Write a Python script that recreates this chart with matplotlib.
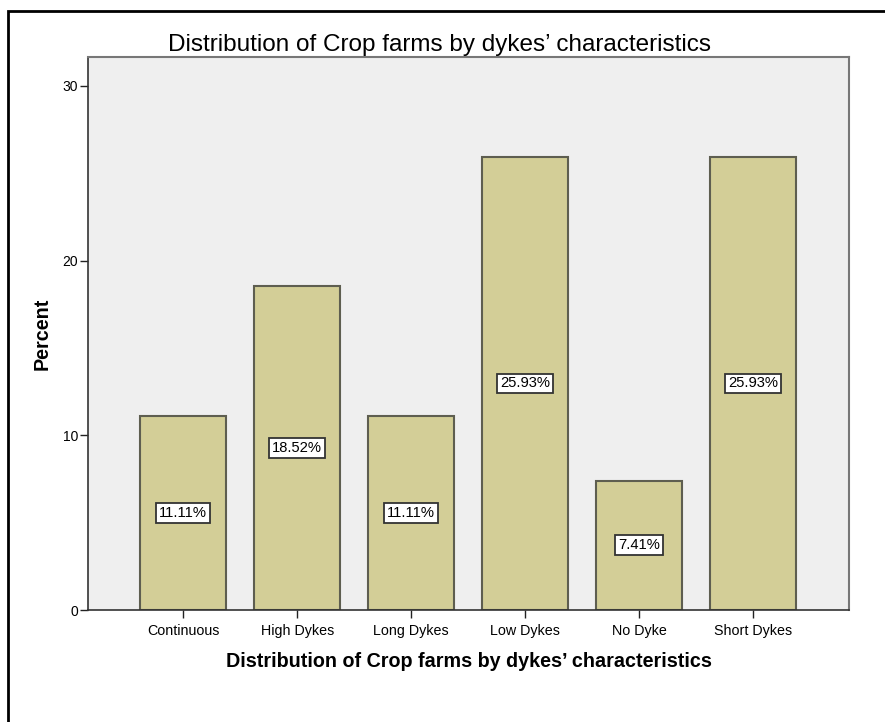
import matplotlib.pyplot as plt
import numpy as np
from matplotlib.patches import Rectangle

categories = ["Continuous", "High Dykes", "Long Dykes", "Low Dykes", "No Dyke", "Short Dykes"]
percents = [11.11, 18.52, 11.11, 25.93, 7.41, 25.93]
yticks = [0, 10, 20, 30]

plt.rcParams['font.family'] = ['Liberation Sans', 'DejaVu Sans']

fig = plt.figure(figsize=(8.85, 7.22), dpi=100)
W, H = 885, 722
ax = fig.add_axes([88 / W, 1 - 610 / H, (849 - 88) / W, (610 - 57) / H])

# outer frame of the figure box
fig.add_artist(Rectangle((8 / W, -0.05), 1.2, 1 - 11 / H + 0.05, transform=fig.transFigure,
                         fill=False, edgecolor='black', linewidth=2))

x = np.arange(len(categories))
ax.set_facecolor('#efefef')
bars = ax.bar(x, percents, width=0.755, color='#d3ce97', edgecolor='#5e5e50', linewidth=1.5, zorder=2)

for xi, p in zip(x, percents):
    ax.text(xi, p / 2, "%.2f%%" % p, ha='center', va='center', fontsize=10.6, zorder=3,
            bbox=dict(boxstyle='square,pad=0.2', facecolor='white', edgecolor='#333333', linewidth=1.3))

ax.set_xlim(-0.835, 5.84)
ax.set_ylim(0, 31.65)
ax.set_yticks(yticks)
ax.set_xticks(x)
ax.set_xticklabels(categories, fontsize=10.3)
ax.tick_params(axis='y', labelsize=10, length=6, width=1, color='#222222', pad=1)
ax.tick_params(axis='x', length=6, width=1, color='#222222', pad=4)

for s in ['left', 'bottom']:
    ax.spines[s].set_color('#333333')
    ax.spines[s].set_linewidth(1.2)
for s in ['top', 'right']:
    ax.spines[s].set_color('#777777')
    ax.spines[s].set_linewidth(1.5)

# chart title is centred on the whole chart box, not the axes
fig.text(440 / W, 1 - 51 / H, "Distribution of Crop farms by dykes\u2019 characteristics",
         ha='center', va='baseline', fontsize=17.5)
ax.set_xlabel("Distribution of Crop farms by dykes\u2019 characteristics", fontsize=14.2, fontweight='bold', labelpad=10)
ax.set_ylabel("Percent", fontsize=14.2, fontweight='bold', labelpad=8)

fig.savefig("out.png", dpi=100)
